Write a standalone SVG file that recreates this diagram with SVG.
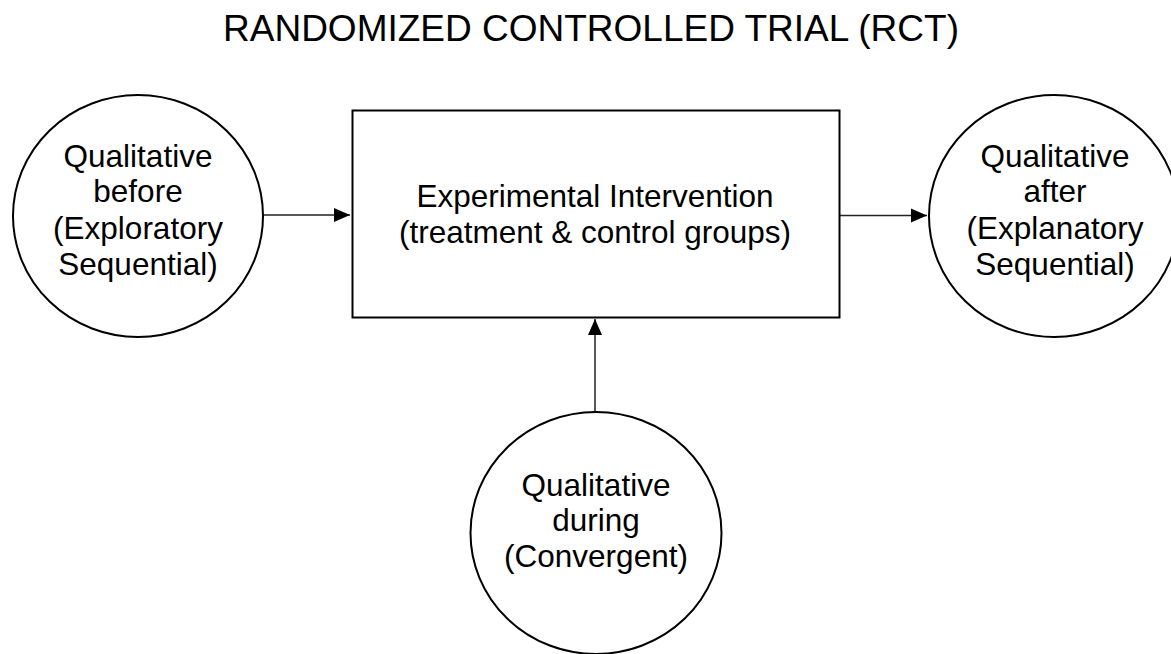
<svg xmlns="http://www.w3.org/2000/svg" width="1171" height="654" viewBox="0 0 1171 654">
  <style>
    .shape { fill: #ffffff; stroke: #000000; stroke-width: 2; }
    .lbl { font-family: "Liberation Sans", Arial, sans-serif; font-size: 31.5px; fill: #000000; text-anchor: middle; }
    .title { font-family: "Liberation Sans", Arial, sans-serif; font-size: 37px; fill: #000000; text-anchor: middle; }
    .conn { stroke: #222222; stroke-width: 1.5; fill: none; }
  </style>
  <defs>
    <marker id="arrow" markerUnits="userSpaceOnUse" markerWidth="16" markerHeight="16" viewBox="0 0 16 16" refX="16" refY="8" orient="auto">
      <path d="M0,1 L16,8 L0,15 Z" fill="#000000"/>
    </marker>
  </defs>
  <rect width="1171" height="654" fill="#ffffff"/>
  <text class="title" x="591" y="41">RANDOMIZED CONTROLLED TRIAL (RCT)</text>

  <g id="connectors">
    <line class="conn" x1="264" y1="215" x2="350" y2="215" marker-end="url(#arrow)"/>
    <line class="conn" x1="840" y1="215.5" x2="927" y2="215.5" marker-end="url(#arrow)"/>
    <line class="conn" x1="595" y1="412" x2="595" y2="319" marker-end="url(#arrow)"/>
  </g>

  <g id="node-before">
    <ellipse class="shape" cx="138" cy="216" rx="125" ry="121"/>
    <text class="lbl" x="138" y="167">Qualitative</text>
    <text class="lbl" x="138" y="202">before</text>
    <text class="lbl" x="138" y="239">(Exploratory</text>
    <text class="lbl" x="138" y="275">Sequential)</text>
  </g>

  <g id="node-intervention">
    <rect class="shape" x="352.5" y="110.5" width="487" height="207"/>
    <text class="lbl" x="595" y="207">Experimental Intervention</text>
    <text class="lbl" x="595" y="243">(treatment &amp; control groups)</text>
  </g>

  <g id="node-after">
    <ellipse class="shape" cx="1054" cy="216" rx="125" ry="121"/>
    <text class="lbl" x="1055" y="167">Qualitative</text>
    <text class="lbl" x="1055" y="202">after</text>
    <text class="lbl" x="1055" y="239">(Explanatory</text>
    <text class="lbl" x="1055" y="275">Sequential)</text>
  </g>

  <g id="node-during">
    <ellipse class="shape" cx="596" cy="533" rx="125.5" ry="121"/>
    <text class="lbl" x="596" y="496">Qualitative</text>
    <text class="lbl" x="596" y="531">during</text>
    <text class="lbl" x="596" y="567">(Convergent)</text>
  </g>
</svg>
